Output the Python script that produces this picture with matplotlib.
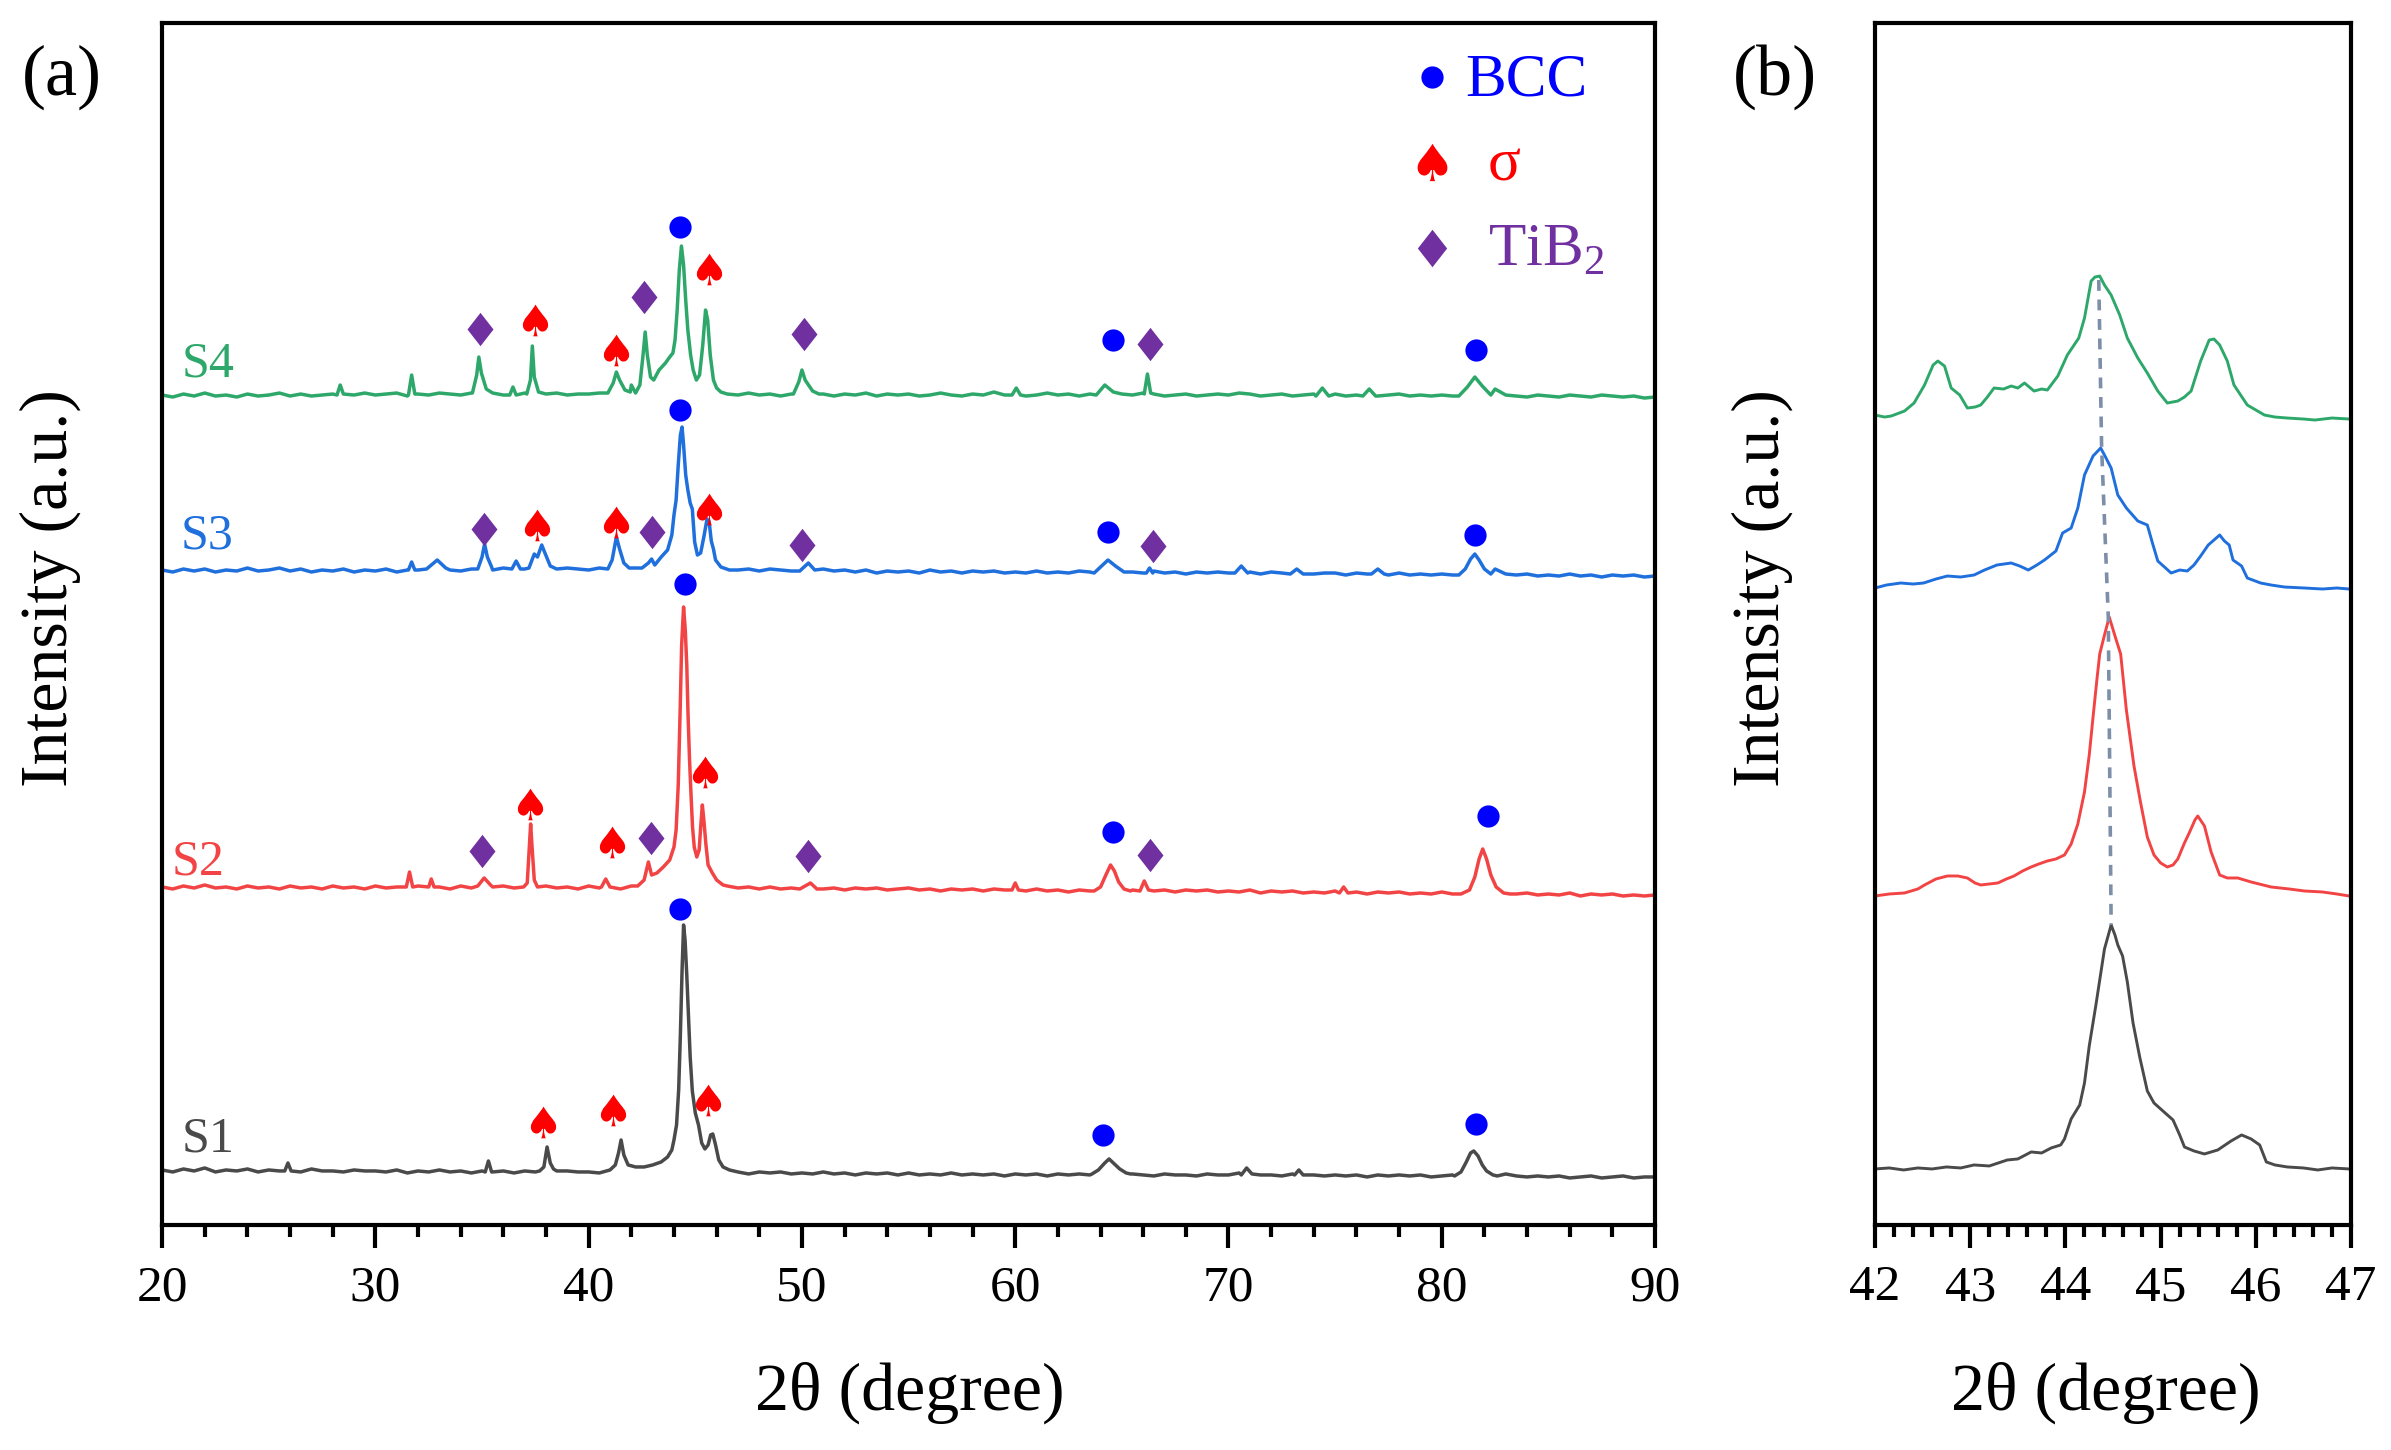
import numpy as np
import matplotlib
matplotlib.use("Agg")
import matplotlib.pyplot as plt
from matplotlib.textpath import TextPath
from matplotlib.font_manager import FontProperties
from matplotlib.path import Path
from matplotlib.markers import MarkerStyle

plt.rcParams['font.family'] = ['Liberation Serif', 'DejaVu Serif']
plt.rcParams['mathtext.fontset'] = 'custom'
plt.rcParams['mathtext.rm'] = 'Liberation Serif'

# ---------------- data: panel (a) ----------------
SAMPLES = ["S1", "S2", "S3", "S4"]
COLORS = ["#4a4a4a", "#f24444", "#1f6fdc", "#2ea86a"]

BASE_X = np.arange(20.0, 90.01, 0.5)

S1_BASE = [55,53,56,54,57,53,55,54,56,53,
           55,54,55,53,56,54,54,53,55,54,
           54,53,55,52,54,53,55,53,54,52,
           54,53,54,52,54,53,53,52,54,53,
           53,52,54,53,54,55,56,58,60,62,
           60,56,54,53,53,51,53,52,53,51,
           52,51,53,51,52,50,52,51,52,50,
           52,50,51,50,52,50,51,50,51,49,
           51,50,51,49,51,50,51,50,55,60,
           54,51,50,49,51,50,50,49,51,50,
           50,52,53,50,50,49,51,50,50,49,
           50,49,50,48,50,49,50,49,50,48,
           49,50,52,60,70,58,51,49,48,49,
           48,49,47,48,49,47,48,49,47,48,
           48]
S1_PEAKS = [
    [(25.75,54),(25.9,62),(26.05,54)],
    [(35.15,53),(35.3,64),(35.45,53)],
    [(37.7,54),(37.9,58),(38.05,78),(38.2,62),(38.35,56),(38.5,54)],
    [(41.0,55),(41.25,60),(41.4,72),(41.52,85),(41.65,70),(41.85,60),(42.2,58),(42.6,58),
     (43.0,60),(43.4,63),(43.7,68),(43.9,75),(44.0,85),(44.12,100),(44.22,135),(44.3,190),
     (44.38,255),(44.45,300),(44.52,285),(44.6,250),(44.68,210),(44.76,168),(44.86,134),
     (45.0,112),(45.15,100),(45.3,82),(45.45,76),(45.6,80),(45.72,90),(45.82,91),(45.95,80),
     (46.1,65),(46.3,58),(46.6,55)],
    [(63.6,51),(63.9,55),(64.2,62),(64.4,66),(64.6,62),(64.9,56),(65.2,52),(65.4,51)],
    [(70.6,50),(70.85,57),(71.1,51)],
    [(73.1,50),(73.3,55),(73.5,50)],
    [(80.6,49),(80.9,53),(81.15,63),(81.35,72),(81.5,74),(81.7,69),(81.9,60),(82.1,54),(82.4,50),(82.6,49)],
]

S2_BASE = [338,336,339,337,340,337,338,336,339,337,
           338,336,339,337,338,336,339,337,338,336,
           339,337,338,336,339,337,338,336,339,337,
           340,338,339,337,338,337,339,337,338,336,
           339,337,338,336,339,342,350,360,380,400,
           360,352,345,339,337,338,336,338,336,337,
           337,338,336,337,335,337,336,337,335,336,
           337,335,336,334,336,335,336,334,336,335,
           336,334,336,334,335,333,335,334,340,355,
           337,335,336,334,335,333,335,334,335,333,
           334,333,335,332,334,333,334,332,333,332,
           334,332,333,331,333,332,333,331,332,331,
           333,331,335,360,370,340,332,331,332,330,
           331,330,332,329,331,330,331,329,330,329,
           330]
S2_PEAKS = [
    [(31.45,338),(31.6,353),(31.75,338)],
    [(32.5,338),(32.62,346),(32.75,338)],
    [(34.8,339),(35.1,347),(35.4,340)],
    [(36.95,338),(37.12,342),(37.22,380),(37.28,401),(37.34,380),(37.45,345),(37.6,338)],
    [(40.6,338),(40.8,346),(41.0,338)],
    [(42.3,339),(42.6,345),(42.8,363),(42.95,350),(43.2,352),(43.5,358),(43.8,365),(44.0,378),
     (44.1,395),(44.2,440),(44.29,515),(44.36,580),(44.45,618),(44.53,595),(44.6,560),(44.66,510),
     (44.73,465),(44.8,430),(44.87,398),(44.95,378),(45.07,368),(45.18,375),(45.26,400),(45.33,420),
     (45.4,405),(45.5,380),(45.6,360),(45.8,352),(46.0,345),(46.3,340)],
    [(49.9,336),(50.4,342),(50.7,336)],
    [(59.85,335),(60.0,342),(60.15,335)],
    [(63.7,334),(64.0,338),(64.25,350),(64.47,360),(64.65,354),(64.85,343),(65.1,336),(65.4,334)],
    [(65.85,334),(66.05,344),(66.25,335)],
    [(75.2,332),(75.4,338),(75.6,332)],
    [(80.9,331),(81.3,335),(81.55,348),(81.75,366),(81.92,376),(82.1,366),(82.3,350),(82.55,338),(82.9,332),(83.2,331)],
]

S3_BASE = [655,653,656,654,656,653,655,654,657,654,
           655,657,654,656,653,655,654,656,653,655,
           654,656,653,655,655,658,657,655,654,656,
           656,655,657,655,656,654,655,656,657,656,
           655,657,656,656,657,660,665,680,700,750,
           680,670,660,657,655,656,654,656,655,654,
           655,653,656,654,655,653,655,652,654,653,
           654,652,655,653,654,652,654,653,654,652,
           653,652,654,652,653,652,654,653,660,664,
           655,653,652,654,652,653,651,653,652,653,
           652,654,653,651,653,652,651,653,651,652,
           652,650,652,651,652,650,652,650,651,650,
           651,650,652,660,668,656,651,650,651,649,
           650,649,651,649,650,648,650,649,650,648,
           649]
S3_PEAKS = [
    [(31.55,655),(31.7,663),(31.85,655)],
    [(32.4,656),(32.9,665),(33.3,657)],
    [(34.8,656),(35.0,668),(35.12,681),(35.25,668),(35.45,658)],
    [(36.4,656),(36.6,664),(36.8,656)],
    [(37.2,657),(37.45,671),(37.6,668),(37.8,680),(37.95,672),(38.2,659)],
    [(40.9,656),(41.1,665),(41.3,688),(41.45,676),(41.65,662),(41.9,657)],
    [(42.5,657),(42.8,662),(42.95,666),(43.1,660),(43.4,668),(43.7,675),(43.9,690),(44.0,710),
     (44.1,725),(44.2,760),(44.3,790),(44.38,798),(44.45,780),(44.55,750),(44.65,735),(44.76,722),
     (44.86,716),(44.97,683),(45.1,670),(45.25,672),(45.4,688),(45.55,706),(45.65,703),(45.75,684),
     (45.85,676),(45.95,665),(46.2,658),(46.6,655)],
    [(49.9,654),(50.3,662),(50.6,655)],
    [(63.7,652),(64.0,658),(64.35,665),(64.7,659),(65.1,653)],
    [(66.15,652),(66.3,657),(66.45,652)],
    [(70.3,652),(70.6,659),(70.9,652)],
    [(72.9,651),(73.2,656),(73.5,651)],
    [(76.7,651),(77.0,656),(77.3,651)],
    [(80.8,650),(81.1,656),(81.35,666),(81.55,671),(81.75,665),(82.0,656),(82.3,651)],
]

S4_BASE = [830,828,831,829,832,829,830,828,831,829,
           830,832,829,831,829,830,831,829,830,832,
           830,831,832,829,831,830,832,831,830,832,
           833,831,830,831,832,830,831,832,830,831,
           831,832,833,834,840,850,870,880,900,950,
           850,838,834,831,830,832,830,831,829,831,
           850,832,831,829,831,830,832,829,831,830,
           831,829,830,832,830,829,831,830,833,830,
           831,829,830,832,830,831,829,831,835,838,
           831,830,832,831,829,830,831,829,830,831,
           830,832,831,829,830,831,829,830,831,833,
           831,829,830,831,829,830,831,829,830,829,
           830,829,831,838,845,836,830,829,828,830,
           829,828,830,829,828,830,829,828,829,827,
           828]
S4_PEAKS = [
    [(28.2,830),(28.35,840),(28.5,831)],
    [(31.55,830),(31.7,850),(31.85,831)],
    [(34.55,832),(34.75,850),(34.85,868),(34.97,852),(35.2,836),(35.5,832)],
    [(36.3,830),(36.45,838),(36.6,830)],
    [(37.1,831),(37.27,845),(37.36,879),(37.45,848),(37.65,833)],
    [(40.9,832),(41.15,842),(41.3,853),(41.45,845),(41.7,835),(41.95,833)],
    [(42.2,832),(42.4,840),(42.55,870),(42.65,893),(42.75,870),(42.9,848),(43.05,845),(43.3,855),
     (43.6,862),(43.8,868),(43.95,872),(44.05,885),(44.15,915),(44.25,955),(44.35,979),(44.45,960),
     (44.55,925),(44.65,895),(44.78,870),(44.9,855),(45.05,845),(45.2,850),(45.35,880),(45.48,915),
     (45.58,905),(45.7,870),(45.85,845),(46.0,837),(46.2,833),(46.5,831)],
    [(49.6,831),(49.85,843),(50.0,855),(50.15,845),(50.5,834),(50.8,831)],
    [(59.85,830),(60.05,837),(60.25,830)],
    [(63.8,830),(64.2,840),(64.6,833)],
    [(66.05,831),(66.2,851),(66.35,832)],
    [(74.1,829),(74.4,837),(74.7,829)],
    [(76.3,829),(76.6,836),(76.9,829)],
    [(80.8,829),(81.2,838),(81.55,848),(81.9,839),(82.3,830)],
]

SAMPLE_LABEL_X = [20.9, 20.45, 20.85, 20.9]
SAMPLE_LABEL_Y = [73, 350, 677, 849]

# phase markers (2theta, intensity position)
BCC_X = [44.3, 64.1, 81.6, 44.5, 64.6, 82.15, 44.3, 64.35, 81.55, 44.3, 64.6, 81.6]
BCC_Y = [316, 90, 101, 641, 393, 409, 815, 693, 690, 998, 885, 875]
SIGMA_X = [37.85, 41.15, 45.6, 37.27, 41.1, 45.45, 37.6, 41.3, 45.65, 37.47, 41.3, 45.65]
SIGMA_Y = [103, 115, 125, 421, 383, 453, 700, 703, 716, 905, 875, 956]
TIB2_X = [35.0, 42.9, 50.3, 66.3, 35.1, 42.95, 50.0, 66.45, 34.9, 42.6, 50.1, 66.3]
TIB2_Y = [374, 387, 369, 370, 696, 693, 680, 679, 896, 928, 891, 881]

# ---------------- data: panel (b) ----------------
S1_B = [(42.0,56),(42.15,57),(42.3,55),(42.45,57),(42.6,56),(42.75,58),(42.9,57),(43.04,60),(43.2,59),
        (43.39,65),(43.5,66),(43.64,73),(43.75,72),(43.85,77),(43.95,80),(43.99,86),(44.06,106),(44.15,120),
        (44.2,142),(44.25,179),(44.32,220),(44.41,276),(44.48,300),(44.52,290),(44.55,280),(44.6,269),
        (44.65,243),(44.71,202),(44.78,168),(44.86,134),(44.93,122),(45.0,116),(45.13,105),(45.2,90),
        (45.25,78),(45.35,74),(45.46,71),(45.6,75),(45.74,84),(45.85,90),(45.95,86),(46.04,80),(46.11,63),
        (46.2,60),(46.33,58),(46.5,57),(46.65,55),(46.8,57),(46.98,56)]
S2_B = [(42.0,329),(42.15,331),(42.31,332),(42.45,336),(42.52,340),(42.64,346),(42.76,349),(42.87,349),
        (42.97,347),(43.05,342),(43.11,340),(43.2,341),(43.29,342),(43.38,346),(43.46,349),(43.55,354),
        (43.64,358),(43.72,361),(43.81,364),(43.9,366),(43.99,370),(44.06,381),(44.13,401),(44.2,433),
        (44.25,470),(44.29,508),(44.33,545),(44.36,571),(44.41,590),(44.46,608),(44.53,586),(44.58,571),
        (44.64,515),(44.72,459),(44.79,422),(44.86,388),(44.93,370),(45.0,362),(45.07,358),(45.13,360),
        (45.18,366),(45.25,382),(45.3,392),(45.36,405),(45.39,409),(45.46,399),(45.53,373),(45.62,350),
        (45.7,347),(45.81,347),(45.95,343),(46.16,338),(46.35,336),(46.51,334),(46.7,333),(46.85,331),(46.98,329)]
S3_B = [(42.0,637),(42.12,640),(42.27,642),(42.4,641),(42.51,642),(42.64,646),(42.76,649),(42.9,648),
        (43.04,650),(43.15,655),(43.28,660),(43.43,662),(43.52,659),(43.61,655),(43.7,660),(43.78,665),
        (43.9,674),(43.97,692),(44.06,697),(44.13,717),(44.2,750),(44.29,769),(44.37,777),(44.41,770),
        (44.48,757),(44.55,730),(44.64,717),(44.76,704),(44.86,700),(44.92,680),(44.97,664),(45.11,652),
        (45.2,655),(45.28,654),(45.35,660),(45.42,669),(45.5,680),(45.56,685),(45.62,690),(45.67,684),
        (45.72,680),(45.76,665),(45.85,659),(45.91,647),(46.05,642),(46.16,640),(46.3,638),(46.51,637),
        (46.7,636),(46.85,637),(46.98,636)]
S4_B = [(42.0,810),(42.1,808),(42.17,809),(42.31,814),(42.41,822),(42.52,840),(42.61,860),(42.66,864),
        (42.73,859),(42.8,837),(42.89,830),(42.97,817),(43.05,818),(43.11,820),(43.18,828),(43.25,837),
        (43.35,836),(43.43,839),(43.5,837),(43.57,842),(43.67,834),(43.75,836),(43.81,835),(43.92,849),
        (44.02,870),(44.14,887),(44.2,907),(44.27,944),(44.31,948),(44.36,949),(44.41,940),(44.48,930),
        (44.57,910),(44.65,887),(44.76,867),(44.86,852),(44.97,834),(45.07,822),(45.18,824),(45.25,828),
        (45.32,834),(45.42,864),(45.51,885),(45.56,886),(45.62,880),(45.7,864),(45.77,840),(45.91,820),
        (46.0,815),(46.09,810),(46.2,808),(46.33,807),(46.5,806),(46.62,805),(46.8,807),(46.98,806)]
SHIFT_X = [44.35, 44.38, 44.45, 44.48]
SHIFT_Y = [945, 777, 608, 300]

YMAX = 1202


def assemble(base_y, peaks):
    pts = []
    for x, y in zip(BASE_X, base_y):
        if not any(seg[0][0] <= x <= seg[-1][0] for seg in peaks):
            pts.append((x, y))
    for seg in peaks:
        pts.extend(seg)
    pts.sort()
    arr = np.array(pts, dtype=float)
    return arr[:, 0], arr[:, 1]


# custom markers
tp = TextPath((0, 0), "\u2660", size=1, prop=FontProperties(family="DejaVu Sans"))
ext = tp.get_extents()
ctr = np.array([(ext.x0 + ext.x1) / 2, (ext.y0 + ext.y1) / 2])
SPADE = MarkerStyle(Path(tp.vertices - ctr, tp.codes))
DIAMOND = MarkerStyle(Path([(0, 1), (0.78, 0), (0, -1), (-0.78, 0), (0, 1)],
                           [Path.MOVETO, Path.LINETO, Path.LINETO, Path.LINETO, Path.CLOSEPOLY]))

BLUE = "#0000ff"
RED = "#ff0000"
PURPLE = "#7030a0"

fig = plt.figure(figsize=(23.91, 14.5), dpi=100)
axA = fig.add_axes([0.0678, 0.1552, 0.6244, 0.8289])
axB = fig.add_axes([0.7842, 0.1552, 0.1991, 0.8289])

traces = [(S1_BASE, S1_PEAKS), (S2_BASE, S2_PEAKS), (S3_BASE, S3_PEAKS), (S4_BASE, S4_PEAKS)]
for (base, peaks), col, name, lx, ly in zip(traces, COLORS, SAMPLES, SAMPLE_LABEL_X, SAMPLE_LABEL_Y):
    x, y = assemble(base, peaks)
    axA.plot(x, y, color=col, lw=2.5, zorder=2, solid_joinstyle="round")
    axA.text(lx, ly, name, color=col, fontsize=36, ha="left", va="baseline")

axA.plot(BCC_X, BCC_Y, ls="none", marker="o", ms=16, mew=0, color=BLUE, zorder=3)
axA.plot(SIGMA_X, SIGMA_Y, ls="none", marker=SPADE, ms=28, mew=0, color=RED, zorder=3)
axA.plot(TIB2_X, TIB2_Y, ls="none", marker=DIAMOND, ms=24, mew=0, color=PURPLE, zorder=3)

# legend (drawn in axes fraction)
axA.plot([0.8506], [0.955], transform=axA.transAxes, marker="o", ms=16, mew=0, color=BLUE, ls="none")
axA.plot([0.8506], [0.884], transform=axA.transAxes, marker=SPADE, ms=33, mew=0, color=RED, ls="none")
axA.plot([0.8506], [0.813], transform=axA.transAxes, marker=DIAMOND, ms=27, mew=0, color=PURPLE, ls="none")
axA.text(0.8727, 0.940, "BCC", transform=axA.transAxes, color=BLUE, fontsize=44, va="baseline")
axA.text(0.888, 0.869, "\u03c3", transform=axA.transAxes, color=RED, fontsize=44, va="baseline")
axA.text(0.888, 0.7987, r"TiB$_\mathregular{2}$", transform=axA.transAxes, color=PURPLE, fontsize=44, va="baseline")

axA.set_xlim(20, 90)
axA.set_ylim(0, YMAX)
axA.set_xticks(np.arange(20, 91, 10))
axA.set_xticks(np.arange(20, 91, 2), minor=True)

for data, col in zip([S1_B, S2_B, S3_B, S4_B], COLORS):
    arr = np.array(data)
    axB.plot(arr[:, 0], arr[:, 1], color=col, lw=2.1, zorder=2, solid_joinstyle="round")
axB.plot(SHIFT_X, SHIFT_Y, color="#7d8ea8", lw=2.6, ls=(0, (3.0, 2.4)), zorder=3)
axB.set_xlim(42, 47)
axB.set_ylim(0, YMAX)
axB.set_xticks(np.arange(42, 47.01, 1))
axB.set_xticks(np.arange(42, 47.01, 0.2), minor=True)

for ax in (axA, axB):
    ax.set_yticks([])
    for sp in ax.spines.values():
        sp.set_linewidth(3)
    ax.tick_params(axis="x", which="major", direction="out", length=16.5, width=3,
                   pad=12, labelsize=37)
    ax.tick_params(axis="x", which="minor", direction="out", length=8.5, width=3)

fig.text(0.0209, 1 - 588 / 1450, "Intensity (a.u.)", rotation=90, fontsize=49, ha="center", va="center")
fig.text(0.737, 1 - 588 / 1450, "Intensity (a.u.)", rotation=90, fontsize=49, ha="center", va="center")
fig.text(910 / 2391, 1 - 1393 / 1450, "2\u03b8 (degree)", fontsize=49, ha="center", va="center")
fig.text(2106 / 2391, 1 - 1393 / 1450, "2\u03b8 (degree)", fontsize=49, ha="center", va="center")
fig.text(0.0092, 0.9345, "(a)", fontsize=52, ha="left", va="baseline")
fig.text(0.7248, 0.9345, "(b)", fontsize=52, ha="left", va="baseline")

fig.savefig("out.png", dpi=100)
